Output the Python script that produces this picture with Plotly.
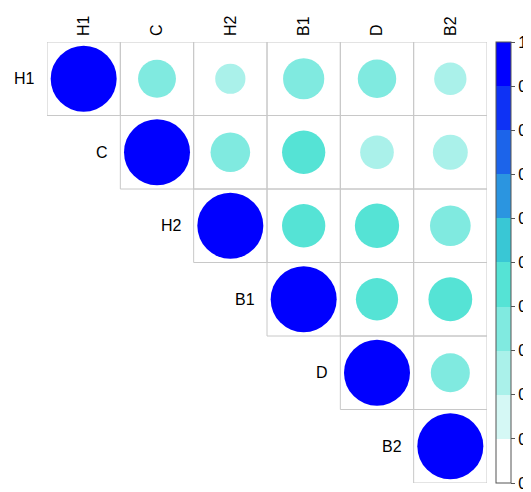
import numpy as np
from plotly import graph_objects as go

labels = ["H1", "C", "H2", "B1", "D", "B2"]

# upper triangle of the correlation matrix, row by row
corr_rows = [
    [1.00, 0.33, 0.21, 0.39, 0.34, 0.24],
    [1.00, 0.36, 0.43, 0.26, 0.28],
    [1.00, 0.43, 0.45, 0.38],
    [1.00, 0.41, 0.44],
    [1.00, 0.35],
    [1.00],
]

cbar_ticks = [round(0.1 * k, 1) for k in range(11)]

palette = ["#FFFFFF", "#D5F8F5", "#AAF1EA", "#80EAE0", "#55E3D5",
           "#39C7D5", "#2B95E0", "#1C64EA", "#0E32F5", "#0000FF"]

n = len(labels)
xs, ys, vals = [], [], []
for i, row in enumerate(corr_rows):
    for k, v in enumerate(row):
        xs.append(i + k)
        ys.append(i)
        vals.append(v)
vals = np.array(vals)

# stepped colorscale, 10 bins
cscale = []
for k, c in enumerate(palette):
    cscale.append([k / 10, c])
    cscale.append([(k + 1) / 10, c])

# the page body adds an 8px margin, so the figure is drawn 8px in from the corner
W, H = 523, 484
plot_l, plot_r, plot_t, plot_b = 39, 479, 34, 475
cell_px = (plot_r - plot_l) / n
full_d = 0.9 * cell_px  # circle area proportional to |r|

fig = go.Figure()

# cell borders
for i in range(n):
    for j in range(i, n):
        fig.add_shape(type="rect", x0=j - 0.5, x1=j + 0.5, y0=i - 0.5, y1=i + 0.5,
                      line=dict(color="#C8C8C8", width=1), layer="below")

fig.add_trace(
    go.Scatter(
        x=xs, y=ys, mode="markers",
        marker=dict(
            size=full_d * np.sqrt(np.abs(vals)),
            color=vals, colorscale=cscale, cmin=0, cmax=1,
            line=dict(width=0), opacity=1,
            colorbar=dict(
                x=(488 - plot_l) / (plot_r - plot_l), xanchor="left", xpad=0,
                y=0.5, yanchor="middle", len=1, ypad=0,
                thickness=15, outlinecolor="#555555", outlinewidth=1,
                tickvals=cbar_ticks, ticktext=[f"{t:g}" for t in cbar_ticks],
                ticks="outside", ticklen=4, tickcolor="#555555",
                tickfont=dict(size=16, color="black"),
            ),
        ),
        hovertemplate="%{x}, %{y}: %{marker.color}<extra></extra>",
        showlegend=False,
    )
)

# row labels sit just left of the diagonal
for i, lab in enumerate(labels):
    fig.add_annotation(x=i - 0.5, y=i, text=lab, showarrow=False,
                       xanchor="right", xshift=-10, font=dict(size=16, color="black"))

fig.update_layout(
    width=W, height=H,
    margin=dict(l=plot_l, r=W - plot_r, t=plot_t, b=H - plot_b, autoexpand=False),
    plot_bgcolor="white", paper_bgcolor="white",
    font=dict(family="Arial, Liberation Sans", size=16, color="black"),
    xaxis=dict(range=[-0.5, n - 0.5], side="top", tickvals=list(range(n)),
               ticktext=labels, tickangle=-90, showgrid=False, zeroline=False,
               ticks="", ticklabelstandoff=5, fixedrange=True, automargin=False),
    yaxis=dict(range=[n - 0.5, -0.5], showticklabels=False, showgrid=False,
               zeroline=False, ticks="", fixedrange=True, automargin=False),
)

fig.write_html("out.html")
